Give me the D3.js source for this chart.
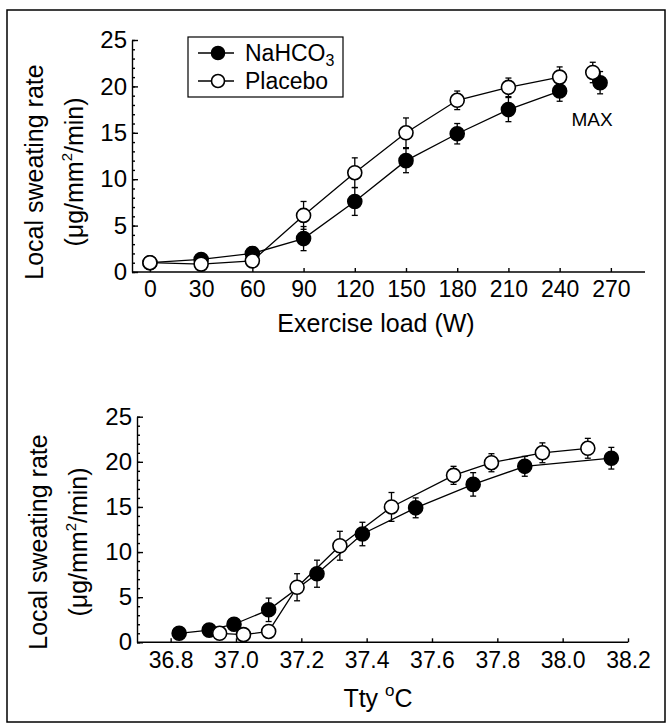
<!DOCTYPE html>
<html>
<head>
<meta charset="utf-8">
<script src="https://cdn.jsdelivr.net/npm/d3@7"></script>
<style>
  body { margin: 0; background: #fff; }
  svg { display: block; font-family: "Liberation Sans", Arial, sans-serif; }
</style>
</head>
<body>
<svg width="667" height="724"></svg>
<script>
// Data
const loadTicks = [0, 30, 60, 90, 120, 150, 180, 210, 240, 270]
const loadNa = [0, 30, 60, 90, 120, 150, 180, 210, 240, 263.7]
const loadPl = [0, 30, 60, 90, 120, 150, 180, 210, 240, 259.4]
const rateNa = [1.0, 1.35, 2.0, 3.6, 7.6, 12.0, 14.9, 17.5, 19.5, 20.4]
const ratePl = [1.0, 0.85, 1.2, 6.1, 10.7, 15.0, 18.5, 19.9, 21.0, 21.5]
const errNa = [0.2, 0.3, 0.7, 1.3, 1.5, 1.3, 1.1, 1.3, 1.1, 1.2]
const errPl = [0.2, 0.3, 0.3, 1.5, 1.6, 1.6, 1.0, 1.0, 1.1, 1.1]
const ttyNa = [36.826, 36.918, 36.994, 37.10, 37.248, 37.387, 37.55, 37.726, 37.884, 38.149]
const ttyPl = [36.95, 37.023, 37.10, 37.187, 37.318, 37.476, 37.666, 37.782, 37.938, 38.077]
const ttyTicks = [36.8, 37.0, 37.2, 37.4, 37.6, 37.8, 38.0, 38.2]
const rateTicks = [0, 5, 10, 15, 20, 25]

const svg = d3.select('svg')

// outer frame
svg.append('rect')
    .attr('x', 7).attr('y', 10)
    .attr('width', 658).attr('height', 712)
    .attr('fill', 'none').attr('stroke', '#000').attr('stroke-width', 1.5)

const makePanel = (cfg) => {
    const g = svg.append('g')
    const x = d3.scaleLinear().domain(cfg.xDomain).range([cfg.left, cfg.right])
    const y = d3.scaleLinear().domain([0, 25]).range([cfg.bottom, cfg.top])

    // y axis: ticks pointing inward
    const yMinor = g.append('g')
        .attr('transform', `translate(${cfg.left},0)`)
        .call(d3.axisLeft(y).tickValues(d3.range(0, 26, 1)).tickSizeInner(-3).tickSizeOuter(0).tickFormat(''))
    yMinor.select('.domain').remove()
    const yAxis = g.append('g')
        .attr('transform', `translate(${cfg.left},0)`)
        .call(d3.axisLeft(y).tickValues(rateTicks).tickSizeInner(-6).tickSizeOuter(0).tickPadding(5))
    yAxis.selectAll('text').attr('font-size', 24).attr('fill', '#000')

    // x axis
    const xAxis = g.append('g')
        .attr('transform', `translate(0,${cfg.bottom})`)
        .call(d3.axisBottom(x).tickValues(cfg.xTicks).tickSizeInner(-4).tickSizeOuter(0).tickPadding(9)
            .tickFormat(cfg.xFormat))
    xAxis.selectAll('text').attr('font-size', 23).attr('fill', '#000')
    xAxis.select('.domain').attr('d', `M${cfg.left},0H${cfg.right}`)

    g.selectAll('.domain, .tick line').attr('stroke', '#000').attr('stroke-width', 1.4)

    // y label
    const yl = g.append('text')
        .attr('transform', `translate(${cfg.labelX},${cfg.labelY}) rotate(-90)`)
        .attr('text-anchor', 'middle').attr('font-size', 25)
    yl.append('tspan').attr('x', 0).attr('dy', 0).text('Local sweating rate')
    const l2 = yl.append('tspan').attr('x', 0).attr('dy', 40)
    l2.append('tspan').text('(\u03bcg/mm')
    l2.append('tspan').attr('font-size', 15).attr('dy', -11).text('2')
    l2.append('tspan').attr('dy', 11).text('/min)')

    const line = d3.line()
        .x(d => x(d[0]))
        .y(d => y(d[1]))

    const series = [
        {xs: cfg.xNa, ys: rateNa, err: errNa, fill: '#000'},
        {xs: cfg.xPl, ys: ratePl, err: errPl, fill: '#fff'}
    ]
    series.forEach(s => {
        const pts = s.xs.map((v, i) => [v, s.ys[i], s.err[i]])
        g.append('path')
            .datum(pts.slice(0, cfg.nLine))
            .attr('d', line)
            .attr('fill', 'none').attr('stroke', '#000').attr('stroke-width', 1.3)
        const eb = g.append('g').selectAll('g').data(pts).enter().append('g')
        eb.append('line')
            .attr('x1', d => x(d[0])).attr('x2', d => x(d[0]))
            .attr('y1', d => y(d[1] - d[2])).attr('y2', d => y(d[1] + d[2]))
            .attr('stroke', '#000').attr('stroke-width', 1.3)
        ;[-1, 1].forEach(sg => {
            eb.append('line')
                .attr('x1', d => x(d[0]) - 3).attr('x2', d => x(d[0]) + 3)
                .attr('y1', d => y(d[1] + sg * d[2])).attr('y2', d => y(d[1] + sg * d[2]))
                .attr('stroke', '#000').attr('stroke-width', 1.3)
        })
    })
    series.forEach(s => {
        g.append('g').selectAll('circle')
            .data(s.xs.map((v, i) => [v, s.ys[i]]))
            .enter().append('circle')
            .attr('cx', d => x(d[0])).attr('cy', d => y(d[1]))
            .attr('r', 7)
            .attr('fill', s.fill).attr('stroke', '#000').attr('stroke-width', 1.6)
    })
    return {g, x, y}
}

// top panel: exercise load
const loadPanel = makePanel({
    xDomain: [-10.5, 290], left: 132, right: 645, top: 40, bottom: 272,
    xTicks: loadTicks, xFormat: d3.format('d'),
    xNa: loadNa, xPl: loadPl, nLine: 9,
    labelX: 43, labelY: 172
})
loadPanel.g.append('text')
    .attr('x', 376).attr('y', 332)
    .attr('text-anchor', 'middle').attr('font-size', 25)
    .text('Exercise load (W)')
loadPanel.g.append('text')
    .attr('x', 592).attr('y', 126)
    .attr('text-anchor', 'middle').attr('font-size', 19)
    .text('MAX')

// legend
const leg = loadPanel.g.append('g')
leg.append('rect')
    .attr('x', 188).attr('y', 37).attr('width', 155).attr('height', 60)
    .attr('fill', '#fff').attr('stroke', '#000').attr('stroke-width', 1.2)
const legItems = [
    {name: 'NaHCO', sub: '3', fill: '#000', cy: 53},
    {name: 'Placebo', sub: '', fill: '#fff', cy: 81}
]
legItems.forEach(it => {
    leg.append('line').attr('x1', 198).attr('x2', 234).attr('y1', it.cy).attr('y2', it.cy)
        .attr('stroke', '#000').attr('stroke-width', 1.3)
    leg.append('circle').attr('cx', 218).attr('cy', it.cy).attr('r', 6.5)
        .attr('fill', it.fill).attr('stroke', '#000').attr('stroke-width', 1.6)
    const t = leg.append('text').attr('x', 245).attr('y', it.cy + 8).attr('font-size', 23)
    t.append('tspan').text(it.name)
    if (it.sub) t.append('tspan').attr('font-size', 16).attr('dy', 5).text(it.sub)
})

// bottom panel: tympanic temperature
const ttyPanel = makePanel({
    xDomain: [36.697, 38.2], left: 137, right: 628, top: 416.7, bottom: 642.3,
    xTicks: ttyTicks, xFormat: d3.format('.1f'),
    xNa: ttyNa, xPl: ttyPl, nLine: 10,
    labelX: 47, labelY: 542
})
const tt = ttyPanel.g.append('text')
    .attr('x', 378).attr('y', 707)
    .attr('text-anchor', 'middle').attr('font-size', 25)
tt.append('tspan').text('Tty ')
tt.append('tspan').attr('font-size', 17).attr('dy', -11).text('o')
tt.append('tspan').attr('dy', 11).text('C')
</script>
</body>
</html>
